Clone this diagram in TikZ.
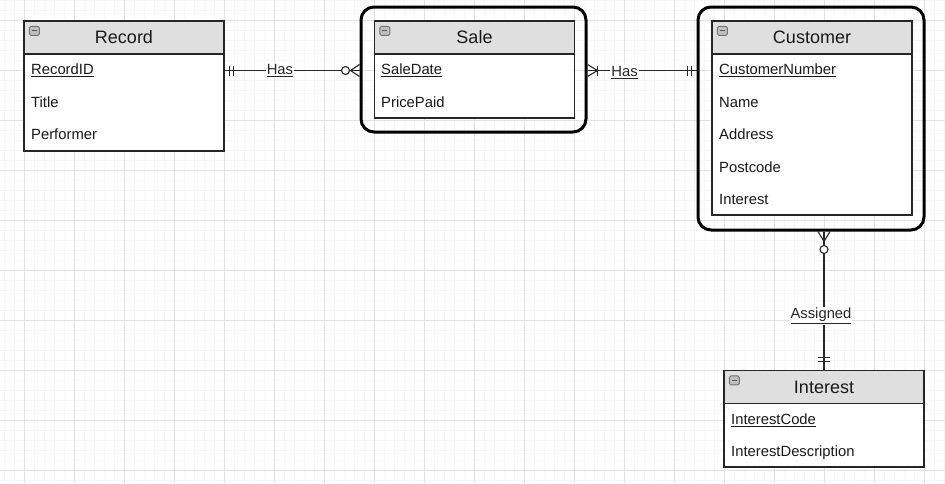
\documentclass[tikz,border=0pt]{standalone}
\usepackage{fontspec}
\setmainfont{Liberation Sans}
\begin{document}
\begin{tikzpicture}[x=1pt,y=-1pt,
  header/.style={draw=black!85,line width=1.3pt,fill=headgrey,minimum height=33pt,
    minimum width=200pt,inner sep=0pt,font=\fontsize{18}{20}\selectfont,text=black!90},
  tbody/.style={draw=black!85,line width=1.3pt,fill=white,minimum width=200pt,inner sep=0pt},
  attr/.style={anchor=west,inner sep=0pt,font=\fontsize{14.8}{16}\selectfont,text=black!90},
  wrapper/.style={draw=black,line width=3pt,rounded corners=13pt,inner sep=0pt},
  rel/.style={draw=black!85,line width=1.2pt},
  rellabel/.style={fill=white,inner sep=1pt,font=\fontsize{14.8}{16}\selectfont,text=black!85},
  notation/.style={draw=black!85,line width=1.1pt},
  icon/.style={draw=black!55,fill=black!25,rounded corners=1.5pt,line width=0.9pt}]
\definecolor{headgrey}{HTML}{DFDFDF}
\definecolor{minorgrid}{HTML}{F6F6F6}
\definecolor{majorgrid}{HTML}{E2E2E2}

% canvas and background grid
\fill[white] (0,0) rectangle (945,483);
\useasboundingbox (0,0) rectangle (945,483);
\foreach \x in {4,14,...,944} \draw[minorgrid,line width=0.8pt] (\x,0) -- (\x,483);
\foreach \y in {0,10,...,480} \draw[minorgrid,line width=0.8pt] (0,\y) -- (945,\y);
\foreach \x in {24,74,...,924} \draw[majorgrid,line width=0.9pt] (\x,0) -- (\x,483);
\foreach \y in {20,70,...,470} \draw[majorgrid,line width=0.9pt] (0,\y) -- (945,\y);

% weak-entity wrappers
\node[wrapper,minimum width=225pt,minimum height=125pt] (saleout) at (473.5,69.5) {};
\node[wrapper,minimum width=226pt,minimum height=223pt] (custout) at (811,118.5) {};

% Record
\node[tbody,minimum height=97pt] (recbody) at (124,102.5) {};
\node[header] (rechead) at (124,37.5) {Record};
\node[attr] (recid) at (31,70.5) {\underline{RecordID}};
\node[attr] (rectitle) at (31,102.5) {Title};
\node[attr] (recperf) at (31,134.5) {Performer};

% Sale
\node[tbody,minimum height=65pt] (salebody) at (474.5,85.5) {};
\node[header] (salehead) at (474.5,37.5) {Sale};
\node[attr] (saledate) at (381,70.5) {\underline{SaleDate}};
\node[attr] (saleprice) at (381,102.5) {PricePaid};

% Customer
\node[tbody,minimum height=162pt] (custbody) at (812,134) {};
\node[header] (custhead) at (812,37.5) {Customer};
\node[attr] (custnum) at (719,70.5) {\underline{CustomerNumber}};
\node[attr] (custname) at (719,102.5) {Name};
\node[attr] (custaddr) at (719,134.5) {Address};
\node[attr] (custpost) at (719,167.5) {Postcode};
\node[attr] (custint) at (719,199.5) {Interest};

% Interest
\node[tbody,minimum height=64pt] (intbody) at (824,435) {};
\node[header] (inthead) at (824,387) {Interest};
\node[attr] (intcode) at (731,420.5) {\underline{InterestCode}};
\node[attr] (intdesc) at (731,452.5) {InterestDescription};

% collapse icons in the headers
\foreach \h in {rechead,salehead,custhead,inthead} {
  \draw[icon] ([xshift=6pt,yshift=-6pt]\h.north west) rectangle ++(10,9);
  \draw[black!65,line width=1.1pt] ([xshift=8.5pt,yshift=-10.5pt]\h.north west) -- ++(5,0);
}

% Record -- Sale
\draw[rel] (recbody.east |- recid) -- (saleout.west |- recid)
  node[rellabel,pos=0.41] (has1) {\underline{Has}};
\draw[notation] ([xshift=5pt]recbody.east |- recid) ++(0,-5) -- ++(0,10);
\draw[notation] ([xshift=9pt]recbody.east |- recid) ++(0,-5) -- ++(0,10);
\draw[notation,fill=white] ([xshift=-14pt]saleout.west |- recid) circle (4pt);
\draw[notation] ([xshift=-9pt]saleout.west |- recid) -- ([yshift=-6pt]saleout.west |- recid);
\draw[notation] ([xshift=-9pt]saleout.west |- recid) -- ([yshift=6pt]saleout.west |- recid);

% Sale -- Customer
\draw[rel] (saleout.east |- custnum) -- (custout.west |- custnum)
  node[rellabel,pos=0.34,yshift=-2pt] (has2) {\underline{Has}};
\draw[notation] ([xshift=10pt]saleout.east |- custnum) -- ([yshift=-6pt]saleout.east |- custnum);
\draw[notation] ([xshift=10pt]saleout.east |- custnum) -- ([yshift=6pt]saleout.east |- custnum);
\draw[notation] ([xshift=10pt]saleout.east |- custnum) ++(0,-5) -- ++(0,10);
\draw[notation] ([xshift=-9pt]custout.west |- custnum) ++(0,-5) -- ++(0,10);
\draw[notation] ([xshift=-5pt]custout.west |- custnum) ++(0,-5) -- ++(0,10);

% Customer -- Interest
\coordinate (ctop) at (custout.south -| inthead.north);
\draw[rel] (custout.south -| inthead.north) -- (inthead.north)
  node[rellabel,pos=0.61,xshift=-3pt] (assigned) {\underline{Assigned}};
\draw[notation] ([yshift=-10pt]ctop) -- ([xshift=-6pt]ctop);
\draw[notation] ([yshift=-10pt]ctop) -- ([xshift=6pt]ctop);
\draw[notation,fill=white] ([yshift=-18pt]ctop) circle (4pt);
\draw[notation] ([yshift=12pt]inthead.north) ++(-6,0) -- ++(12,0);
\draw[notation] ([yshift=8pt]inthead.north) ++(-6,0) -- ++(12,0);
\end{tikzpicture}
\end{document}
